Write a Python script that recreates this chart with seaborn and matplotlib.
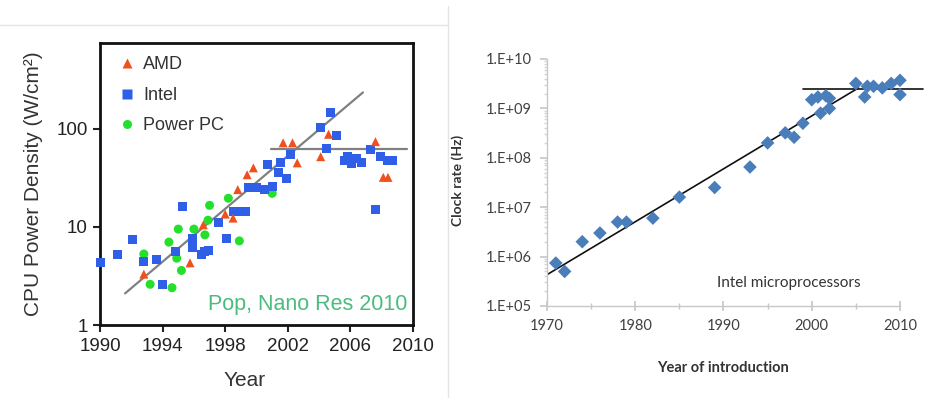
import numpy as np
import pandas as pd
import matplotlib
matplotlib.use("Agg")
import matplotlib.pyplot as plt
import matplotlib.ticker as mticker
from matplotlib.lines import Line2D
import seaborn as sns

sns.set_theme(style="white")
plt.rcParams['font.family'] = ['Liberation Sans', 'DejaVu Sans']

# --- left panel data: CPU power density (W/cm2) ---
amd_year = [1992.8, 1995.75, 1996.6, 1998.0, 1998.5, 1998.8, 1999.4, 1999.8,
            2001.7, 2002.3, 2002.6, 2004.1, 2004.6, 2007.6, 2008.1, 2008.4]
amd_val = [3.3, 4.3, 10.5, 13.5, 12.3, 24, 34, 40,
           72, 72, 45, 52, 88, 74, 32, 32]

intel_year = [1990.0, 1991.1, 1992.1, 1992.8, 1993.6, 1994.0, 1994.8, 1995.3,
              1995.9, 1995.9, 1996.5, 1996.7, 1996.9, 1997.6, 1998.1, 1998.5,
              1998.9, 1999.3, 1999.5, 2000.0, 2000.5, 2000.7, 2001.0, 2001.4,
              2001.5, 2001.9, 2002.2, 2004.1, 2004.5, 2004.7, 2005.1, 2005.6,
              2005.8, 2006.1, 2006.4, 2006.7, 2007.3, 2007.6, 2007.9, 2008.4, 2008.7]
intel_val = [4.3, 5.2, 7.5, 4.4, 4.7, 2.6, 5.6, 16,
             7.7, 6.1, 5.2, 5.6, 5.8, 11.2, 7.7, 14.2,
             14.2, 14.2, 25, 25, 24, 43, 26, 36,
             45, 31, 55, 102, 63, 145, 85, 47,
             52, 44, 50, 45, 61, 15, 52, 48, 48]

ppc_year = [1992.8, 1993.2, 1994.4, 1994.6, 1994.9, 1995.0, 1995.2, 1995.9,
            1996.0, 1996.7, 1996.9, 1997.0, 1998.2, 1998.9, 2001.0]
ppc_val = [5.3, 2.6, 7.0, 2.4, 4.8, 9.5, 3.6, 6.8,
           9.5, 8.3, 11.7, 16.6, 19.6, 7.2, 22]

trend_year = [1991.6, 2006.8]
trend_val = [2.1, 235]
flat_year = [2000.9, 2009.6]
flat_val = [63, 63]

# --- right panel data: Intel clock rate (Hz) ---
clock_year = [1971, 1972, 1974, 1976, 1978, 1979, 1982, 1985, 1989, 1993,
              1995, 1997, 1998, 1999, 2000, 2000.7, 2001, 2001.6, 2002, 2002,
              2005, 2006, 2006.3, 2007, 2008, 2009, 2010, 2010]
clock_hz = [7.4e5, 5e5, 2e6, 3e6, 5e6, 5e6, 6e6, 1.6e7, 2.5e7, 6.5e7,
            2e8, 3.2e8, 2.6e8, 5e8, 1.5e9, 1.7e9, 8e8, 1.8e9, 1e9, 1.6e9,
            3.2e9, 1.7e9, 2.8e9, 2.8e9, 2.6e9, 3.2e9, 3.7e9, 1.9e9]
clock_trend_year = [1970, 2005.3]
clock_trend_hz = [4.3e5, 2.6e9]
clock_flat_year = [1999, 2012.6]
clock_flat_hz = [2.5e9, 2.5e9]

makers = ["AMD", "Intel", "Power PC"]
colors = {"AMD": "#f0501e", "Intel": "#2f5fe6", "Power PC": "#25e02a"}
markers = {"AMD": "^", "Intel": "s", "Power PC": "o"}

df = pd.concat([
    pd.DataFrame({"year": ppc_year, "density": ppc_val, "maker": "Power PC"}),
    pd.DataFrame({"year": intel_year, "density": intel_val, "maker": "Intel"}),
    pd.DataFrame({"year": amd_year, "density": amd_val, "maker": "AMD"}),
])

fig = plt.figure(figsize=(9.4, 3.98), dpi=100)

# separators from the original screenshot
fig.add_artist(Line2D([0, 0.4755], [0.937, 0.937], color="#e4e4e4", lw=1))
fig.add_artist(Line2D([0.4766, 0.4766], [0, 0.985], color="#e4e4e4", lw=1))

# ---------------- left panel ----------------
ax1 = fig.add_axes([0.1064, 0.1834, 0.333, 0.7086])
sns.scatterplot(data=df, x="year", y="density", hue="maker", style="maker",
                hue_order=makers, style_order=makers, palette=colors,
                markers=markers, s=42, edgecolor="none", ax=ax1, clip_on=False,
                zorder=3)
sns.lineplot(x=trend_year, y=trend_val, color="#808080", lw=1.6, ax=ax1, zorder=2)
sns.lineplot(x=flat_year, y=flat_val, color="#808080", lw=1.6, ax=ax1, zorder=2)
ax1.set_yscale("log")
ax1.set_xlim(1990, 2010)
ax1.set_ylim(1, 750)
ax1.set_xticks([1990, 1994, 1998, 2002, 2006, 2010])
ax1.set_yticks([1, 10, 100])
ax1.yaxis.set_major_formatter(mticker.FuncFormatter(lambda v, p: f"{v:g}"))
ax1.yaxis.set_minor_locator(mticker.NullLocator())
ax1.tick_params(axis="both", direction="out", length=5, width=1.5,
                labelsize=13.5, colors="#222222", pad=4, left=True, bottom=True)
for sp in ax1.spines.values():
    sp.set_color("#111111")
    sp.set_linewidth(2)
ax1.set_xlabel("Year", fontsize=15, color="#333333", va="center")
ax1.xaxis.set_label_coords(0.463, -0.195)
ax1.set_ylabel("CPU Power Density (W/cm²)", fontsize=15, color="#333333",
               va="center", ha="center")
ax1.yaxis.set_label_coords(-0.214, 0.5)

handles, labels = ax1.get_legend_handles_labels()
ax1.legend(handles, labels, loc="upper left", bbox_to_anchor=(0.0, 1.01),
           frameon=False, fontsize=13, handletextpad=0.3, handlelength=1.2,
           labelspacing=0.75, borderaxespad=0.5, labelcolor="#333333",
           markerscale=1.0)
ax1.text(0.983, 0.072, "Pop, Nano Res 2010", transform=ax1.transAxes,
         ha="right", va="center", fontsize=15.5, color="#4cbb7f")

# ---------------- right panel ----------------
ax2 = fig.add_axes([0.5819, 0.2312, 0.4037, 0.6206])
sns.lineplot(x=clock_trend_year, y=clock_trend_hz, color="#111111", lw=1.2,
             ax=ax2, zorder=2)
sns.lineplot(x=clock_flat_year, y=clock_flat_hz, color="#111111", lw=1.2,
             ax=ax2, zorder=2, clip_on=False)
sns.scatterplot(x=clock_year, y=clock_hz, marker="D", s=48, color="#4a7ebb",
                edgecolor="none", ax=ax2, zorder=3, clip_on=False)
ax2.set_yscale("log")
ax2.set_xlim(1970, 2013)
ax2.set_ylim(1e5, 1e10)
ax2.set_xticks([1970, 1980, 1990, 2000, 2010])
ax2.xaxis.set_minor_locator(mticker.FixedLocator([1975, 1985, 1995, 2005]))
ax2.set_yticks([1e5, 1e6, 1e7, 1e8, 1e9, 1e10])
ax2.yaxis.set_major_formatter(mticker.FuncFormatter(
    lambda v, p: "1.E+{:02d}".format(int(round(np.log10(v))))))
ax2.yaxis.set_minor_locator(mticker.LogLocator(base=10, subs=np.arange(2, 10)))
ax2.yaxis.set_minor_formatter(mticker.NullFormatter())
ax2.spines["top"].set_visible(False)
ax2.spines["right"].set_visible(False)
for side in ["left", "bottom"]:
    ax2.spines[side].set_color("#c8c8c8")
    ax2.spines[side].set_linewidth(1)
ax2.spines["bottom"].set_bounds(1970, 2010)
ax2.tick_params(axis="x", which="major", direction="inout", length=7,
                color="#c8c8c8", labelsize=10.5, labelcolor="#404040", pad=6,
                bottom=True)
ax2.tick_params(axis="x", which="minor", direction="inout", length=5,
                color="#c8c8c8", bottom=True)
ax2.tick_params(axis="y", which="major", direction="out", length=5,
                color="#c8c8c8", labelsize=10.5, labelcolor="#404040", pad=6,
                left=True)
ax2.tick_params(axis="y", which="minor", direction="out", length=2.5,
                color="#d4d4d4", left=True)
for lab in ax2.get_xticklabels() + ax2.get_yticklabels():
    lab.set_family(['Lato', 'DejaVu Sans'])
ax2.set_xlabel("Year of introduction", fontsize=10.5, fontweight="bold",
               color="#333333", family=['Lato', 'DejaVu Sans'], va="center")
ax2.xaxis.set_label_coords(0.465, -0.25)
ax2.set_ylabel("Clock rate (Hz)", fontsize=10, fontweight="bold",
               color="#333333", family=['Lato', 'DejaVu Sans'],
               va="center", ha="center")
ax2.yaxis.set_label_coords(-0.235, 0.51)
ax2.text(0.448, 0.093, "Intel microprocessors", transform=ax2.transAxes,
         ha="left", va="center", fontsize=11, color="#333333",
         family=['Lato', 'DejaVu Sans'])

fig.savefig("out.png", dpi=100, facecolor="white")
